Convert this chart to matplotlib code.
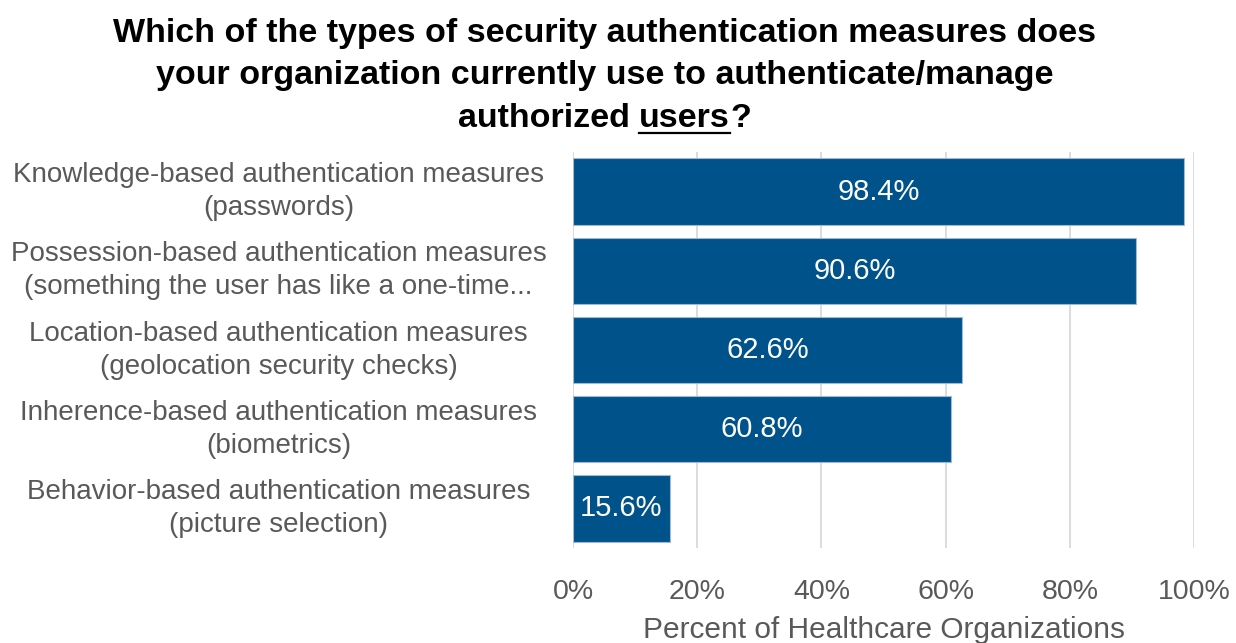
import matplotlib.pyplot as plt
from matplotlib.ticker import PercentFormatter
from matplotlib.lines import Line2D

plt.rcParams['font.family'] = ['Liberation Sans', 'DejaVu Sans']

categories = [
    "Knowledge-based authentication measures\n(passwords)",
    "Possession-based authentication measures\n(something the user has like a one-time...",
    "Location-based authentication measures\n(geolocation security checks)",
    "Inherence-based authentication measures\n(biometrics)",
    "Behavior-based authentication measures\n(picture selection)",
]
values = [98.4, 90.6, 62.6, 60.8, 15.6]
xticks = [0, 20, 40, 60, 80, 100]

bar_color = "#00528A"
grey_text = "#595959"

fig = plt.figure(figsize=(12.36, 6.43), dpi=100)
ax = fig.add_axes([0.4636, 0.1477, 0.5025, 0.6159])

ypos = list(range(len(categories)))
bars = ax.barh(ypos, values, height=0.84, color=bar_color,
               edgecolor="#9DB9D3", linewidth=0.8, zorder=3)
ax.set_ylim(len(categories) - 0.5, -0.5)
ax.set_xlim(0, 100)

for b, v in zip(bars, values):
    ax.text(v / 2, b.get_y() + b.get_height() / 2, f"{v:.1f}%",
            ha="center", va="center", color="white", fontsize=21, zorder=4)

ax.set_yticks(ypos)
ax.set_yticklabels(categories, fontsize=20, color=grey_text, ha="center",
                   linespacing=1.35)
for lbl in ax.get_yticklabels():
    lbl.set_va("center")
ax.tick_params(axis="y", length=0, pad=212)
ax.set_xticks(xticks)
ax.xaxis.set_major_formatter(PercentFormatter(decimals=0))
ax.tick_params(axis="x", length=0, labelsize=20.5, labelcolor=grey_text, pad=22)
ax.set_xlabel("Percent of Healthcare Organizations", fontsize=21.5,
              color=grey_text, labelpad=8)

ax.grid(axis="x", color="#D9D9D9", linewidth=1.3, zorder=0)
for s in ax.spines.values():
    s.set_visible(False)

# title, with "users" underlined on the last line
title_kw = dict(fontsize=24.5, fontweight="bold", color="black", ha="center",
                va="baseline")
fig.text(0.489, 0.935, "Which of the types of security authentication measures does", **title_kw)
fig.text(0.489, 0.869, "your organization currently use to authenticate/manage", **title_kw)

renderer = fig.canvas.get_renderer()
parts = ["authorized ", "users", "?"]
pieces = [fig.text(0, 0.803, p, **{**title_kw, "ha": "left"}) for p in parts]
widths = [t.get_window_extent(renderer).width / fig.bbox.width for t in pieces]
x = 0.489 - sum(widths) / 2
for t, w in zip(pieces, widths):
    t.set_x(x)
    if t.get_text() == "users":
        fig.add_artist(Line2D([x, x + w], [0.793, 0.793], color="black",
                              linewidth=1.6, transform=fig.transFigure))
    x += w

fig.savefig("out.png", dpi=100)
